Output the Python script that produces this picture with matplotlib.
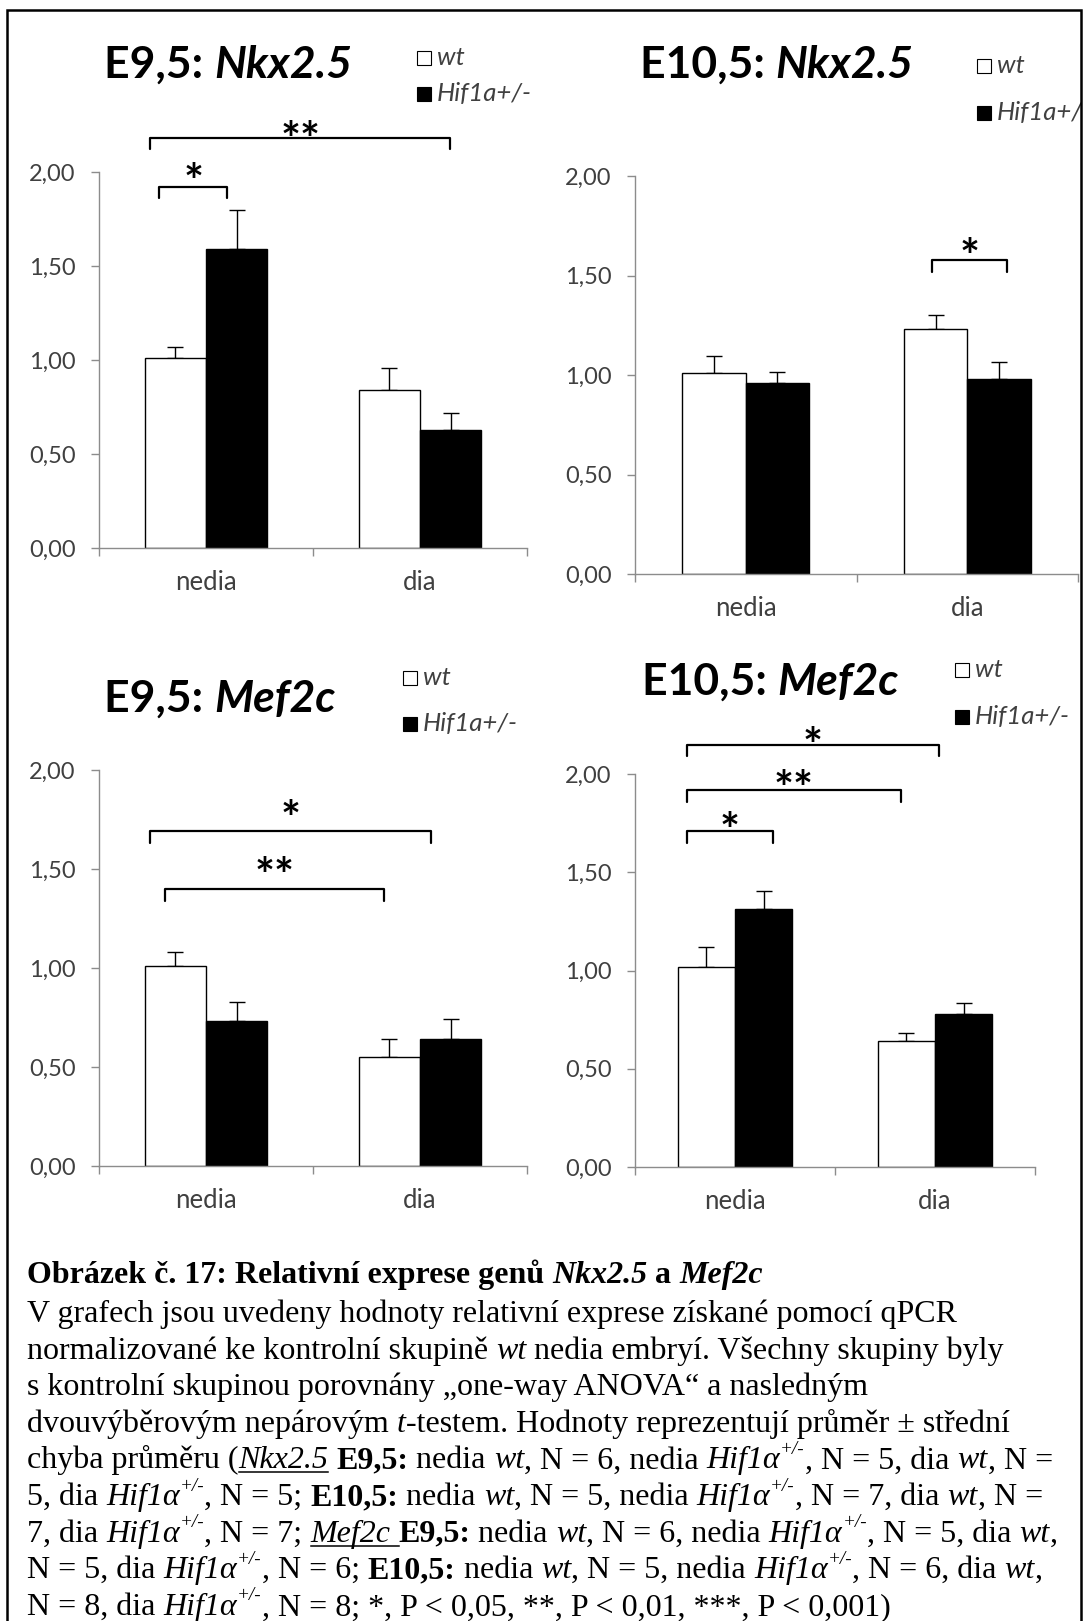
import numpy as np
import matplotlib
matplotlib.use("Agg")
import matplotlib.pyplot as plt
from matplotlib.font_manager import FontProperties
from matplotlib.lines import Line2D
from matplotlib.patches import Rectangle

W, H = 1086, 1621
SANS = "Lato"
SERIF = "Liberation Serif"
TXT = "#404040"
AXC = "#8c8c8c"

# data
categories = ["nedia", "dia"]
ytick_values = [0, 0.5, 1.0, 1.5, 2.0]
ytick_labels = ["0,00", "0,50", "1,00", "1,50", "2,00"]
group_labels = ["wt", "Hif1a+/-"]

nkx_e95_wt = [1.01, 0.84]
nkx_e95_wt_err = [0.06, 0.12]
nkx_e95_hif = [1.59, 0.63]
nkx_e95_hif_err = [0.21, 0.09]

nkx_e105_wt = [1.01, 1.23]
nkx_e105_wt_err = [0.085, 0.07]
nkx_e105_hif = [0.96, 0.98]
nkx_e105_hif_err = [0.055, 0.085]

mef_e95_wt = [1.01, 0.55]
mef_e95_wt_err = [0.07, 0.09]
mef_e95_hif = [0.73, 0.64]
mef_e95_hif_err = [0.10, 0.10]

mef_e105_wt = [1.02, 0.64]
mef_e105_wt_err = [0.10, 0.04]
mef_e105_hif = [1.315, 0.78]
mef_e105_hif_err = [0.09, 0.055]

# significance brackets: (from, to, level, label, label height)
nkx_e95_sig = [(-0.22, 0.10, 1.92, "*", 2.01), (-0.26, 1.14, 2.18, "**", 2.23)]
nkx_e105_sig = [(0.84, 1.18, 1.58, "*", 1.65)]
mef_e95_sig = [(-0.26, 1.05, 1.69, "*", 1.81), (-0.19, 0.83, 1.40, "**", 1.52)]
mef_e105_sig = [(-0.24, 1.02, 2.15, "*", 2.20), (-0.24, 0.83, 1.92, "**", 1.98),
                (-0.24, 0.19, 1.71, "*", 1.77)]

panel_titles = [("E9,5: ", "Nkx2.5"), ("E10,5: ", "Nkx2.5"),
                ("E9,5: ", "Mef2c"), ("E10,5: ", "Mef2c")]

HIF = [("Hif1α", "i"), ("+/-", "sup")]
caption_lines = [
    [("Obrázek č. 17: Relativní exprese genů ", "b"), ("Nkx2.5", "bi"), (" a ", "b"), ("Mef2c", "bi")],
    [("V grafech jsou uvedeny hodnoty relativní exprese získané pomocí qPCR", "n")],
    [("normalizované ke kontrolní skupině ", "n"), ("wt", "i"), (" nedia embryí. Všechny skupiny byly", "n")],
    [("s kontrolní skupinou porovnány „one-way ANOVA“ a nasledným", "n")],
    [("dvouvýběrovým nepárovým ", "n"), ("t", "i"), ("-testem. Hodnoty reprezentují průměr ± střední", "n")],
    [("chyba průměru (", "n"), ("Nkx2.5", "iu"), (" ", "n"), ("E9,5:", "b"), (" nedia ", "n"), ("wt", "i"),
     (", N = 6, nedia ", "n"), *HIF, (", N = 5, dia ", "n"), ("wt", "i"), (", N =", "n")],
    [("5, dia ", "n"), *HIF, (", N = 5; ", "n"), ("E10,5:", "b"), (" nedia ", "n"), ("wt", "i"),
     (", N = 5, nedia ", "n"), *HIF, (", N = 7, dia ", "n"), ("wt", "i"), (", N =", "n")],
    [("7, dia ", "n"), *HIF, (", N = 7; ", "n"), ("Mef2c ", "iu"), ("E9,5:", "b"), (" nedia ", "n"), ("wt", "i"),
     (", N = 6, nedia ", "n"), *HIF, (", N = 5, dia ", "n"), ("wt", "i"), (",", "n")],
    [("N = 5, dia ", "n"), *HIF, (", N = 6; ", "n"), ("E10,5:", "b"), (" nedia ", "n"), ("wt", "i"),
     (", N = 5, nedia ", "n"), *HIF, (", N = 6, dia ", "n"), ("wt", "i"), (",", "n")],
    [("N = 8, dia ", "n"), *HIF, (", N = 8; *, P < 0,05, **, P < 0,01, ***, P < 0,001)", "n")],
]

plt.rcParams["font.family"] = [SANS, "DejaVu Sans"]

fig = plt.figure(figsize=(W / 100, H / 100), dpi=100)
renderer = fig.canvas.get_renderer()


def fx(x):
    return x / W


def fy(y):
    return 1 - y / H


def measure(s, fp):
    w1 = renderer.get_text_width_height_descent("|" + s + "|", fp, ismath=False)[0]
    w0 = renderer.get_text_width_height_descent("||", fp, ismath=False)[0]
    return w1 - w0


STYLES = {"n": ("normal", "normal"), "b": ("bold", "normal"), "i": ("normal", "italic"),
          "bi": ("bold", "italic"), "iu": ("normal", "italic"), "sup": ("normal", "italic")}


def rich_text(x, y, pieces, family, size, color="black"):
    # x, y in pixels from top left, y = baseline
    for s, st in pieces:
        weight, style = STYLES[st]
        sz = size * 0.6 if st == "sup" else size
        yy = y - size * 0.45 * 100 / 72 if st == "sup" else y
        fp = FontProperties(family=family, size=sz, weight=weight, style=style)
        fig.text(fx(x), fy(yy), s, fontproperties=fp, color=color, ha="left", va="baseline")
        w = measure(s, fp)
        if st == "iu":
            fig.add_artist(Line2D([fx(x), fx(x + w)], [fy(y + 4)] * 2, color=color, lw=1.1))
        x += w
    return x


def draw_panel(ax, wt, wt_err, hif, hif_err, sig):
    x = np.arange(len(categories))
    w = 0.2857
    ax.errorbar(x - w / 2, wt, yerr=[np.zeros(len(wt)), wt_err], fmt="none", ecolor="black",
                elinewidth=1.0, capsize=6, capthick=1.0, zorder=1)
    ax.errorbar(x + w / 2, hif, yerr=[np.zeros(len(hif)), hif_err], fmt="none", ecolor="black",
                elinewidth=1.0, capsize=6, capthick=1.0, zorder=1)
    ax.bar(x - w / 2, wt, w, color="white", edgecolor="black", linewidth=1.0, zorder=2)
    ax.bar(x + w / 2, hif, w, color="black", edgecolor="black", linewidth=1.0, zorder=2)

    ax.set_xlim(-0.5, 1.5)
    ax.set_ylim(0, 2)
    ax.set_yticks(ytick_values)
    ax.set_yticklabels(ytick_labels)
    ax.set_xticks([-0.5, 0.5, 1.5])
    ax.set_xticklabels([])
    ax.set_xticks([0, 1], minor=True)
    ax.set_xticklabels(categories, minor=True)
    ax.tick_params(axis="y", direction="out", length=6, width=1, color=AXC,
                   labelsize=17, labelcolor=TXT, pad=11)
    ax.tick_params(axis="x", which="major", direction="out", length=6, width=1, color=AXC)
    ax.tick_params(axis="x", which="minor", length=0, labelsize=18.5, labelcolor=TXT, pad=16)
    for side in ["top", "right"]:
        ax.spines[side].set_visible(False)
    for side in ["left", "bottom"]:
        ax.spines[side].set_color(AXC)
        ax.spines[side].set_linewidth(1.0)

    star_size = 34
    star_fp = FontProperties(family=SANS, size=star_size, weight="bold")
    for x1, x2, yb, label, ylab in sig:
        ax.plot([x1, x1, x2, x2], [yb - 0.06, yb, yb, yb - 0.06], color="black", lw=1.6,
                clip_on=False, solid_joinstyle="round", solid_capstyle="round")
        ax.annotate(label, ((x1 + x2) / 2, ylab), xytext=(0, -0.58 * star_size),
                    textcoords="offset points", ha="center", va="baseline",
                    fontproperties=star_fp, annotation_clip=False)


panel_data = [
    (nkx_e95_wt, nkx_e95_wt_err, nkx_e95_hif, nkx_e95_hif_err, nkx_e95_sig),
    (nkx_e105_wt, nkx_e105_wt_err, nkx_e105_hif, nkx_e105_hif_err, nkx_e105_sig),
    (mef_e95_wt, mef_e95_wt_err, mef_e95_hif, mef_e95_hif_err, mef_e95_sig),
    (mef_e105_wt, mef_e105_wt_err, mef_e105_hif, mef_e105_hif_err, mef_e105_sig),
]

# layout in pixels: axes box (left, top, right, bottom), title origin, legend origin
axes_boxes = [(99, 172, 527, 548), (635, 176, 1078, 574), (99, 770, 527, 1166), (635, 774, 1035, 1167)]
title_pos = [(104, 78), (640, 78), (104, 712), (642, 695)]
legend_pos = [(424, 58, 94), (984, 66, 113), (410, 678, 724), (962, 670, 717)]

for (l, t, r, b), data, title, (tx, ty), (lx, ly1, ly2) in zip(axes_boxes, panel_data, panel_titles,
                                                           title_pos, legend_pos):
    ax = fig.add_axes([fx(l), fy(b), (r - l) / W, (b - t) / H])
    draw_panel(ax, *data)
    rich_text(tx, ty, [(title[0], "b"), (title[1], "bi")], SANS, 32)
    for cy, fc, lab in [(ly1, "white", group_labels[0]), (ly2, "black", group_labels[1])]:
        fig.add_artist(Rectangle((fx(lx - 7), fy(cy + 7)), 14 / W, 14 / H, facecolor=fc,
                                 edgecolor="black", linewidth=0.8, transform=fig.transFigure))
        fig.text(fx(lx + 13), fy(cy + 7), lab, fontsize=18.5, style="italic", color=TXT,
                 ha="left", va="baseline")

# caption
baselines = [1283] + [1322 + 36.6 * k for k in range(9)]
for pieces, yb in zip(caption_lines, baselines):
    rich_text(27, yb, pieces, SERIF, 23)

# frame round the figure
fig.add_artist(Rectangle((fx(1082), 0), 4 / W, 1, facecolor="white", edgecolor="none",
                         transform=fig.transFigure, zorder=10))
fig.add_artist(Line2D([fx(7), fx(7), fx(1081), fx(1081)], [0, fy(10), fy(10), 0], color="black",
                      lw=1.8, solid_joinstyle="miter", zorder=11))

fig.savefig("out.png", dpi=100, facecolor="white")
